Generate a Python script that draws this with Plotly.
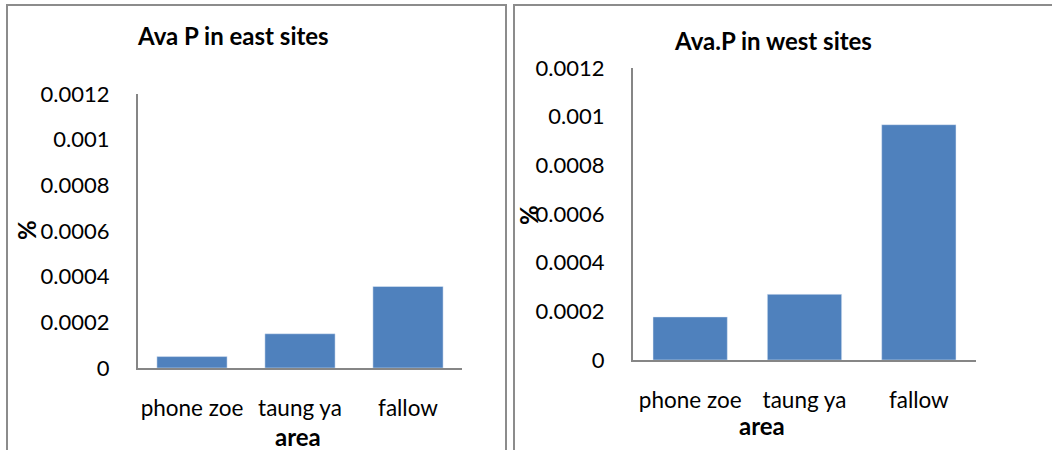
import plotly.graph_objects as go

# Available P by land-use area, east and west sites
areas = ["phone zoe", "taung ya", "fallow"]
east_values = [0.00005, 0.00015, 0.000357]
west_values = [0.000177, 0.00027, 0.000967]
y_ticks = [0, 0.0002, 0.0004, 0.0006, 0.0008, 0.001, 0.0012]
y_tick_labels = ["0", "0.0002", "0.0004", "0.0006", "0.0008", "0.001", "0.0012"]

W, H = 1052, 450
BAR_COLOR = "#4F81BD"
AXIS_COLOR = "#868686"
FRAME_COLOR = "#8C8C8C"
FONT = "Lato"


def px(x):
    return x / W


def py(y):
    return 1 - y / H


fig = go.Figure()
fig.add_trace(go.Bar(x=areas, y=east_values, marker_color=BAR_COLOR,
                     xaxis="x", yaxis="y", showlegend=False))
fig.add_trace(go.Bar(x=areas, y=west_values, marker_color=BAR_COLOR,
                     xaxis="x2", yaxis="y2", showlegend=False))

common_x = dict(showline=True, linecolor=AXIS_COLOR, linewidth=2,
                ticks="", showgrid=False, zeroline=False,
                tickfont=dict(family=FONT, size=22.5, color="#000"),
                fixedrange=True)
common_y = dict(showline=True, linecolor=AXIS_COLOR, linewidth=2,
                ticks="", showgrid=False, zeroline=False,
                range=[0, 0.0012], tickvals=y_ticks, ticktext=y_tick_labels,
                tickfont=dict(family=FONT, size=22, color="#000"),
                ticklabelstandoff=22, fixedrange=True)

fig.update_layout(
    width=W, height=H,
    margin=dict(l=0, r=0, t=0, b=0, autoexpand=False),
    paper_bgcolor="white", plot_bgcolor="white",
    bargap=0.35,
    xaxis=dict(domain=[px(138), px(462)], anchor="y",
               ticklabelstandoff=19, **common_x),
    yaxis=dict(domain=[py(368), py(94)], anchor="x", **common_y),
    xaxis2=dict(domain=[px(633), px(976)], anchor="y2",
                ticklabelstandoff=19, **common_x),
    yaxis2=dict(domain=[py(360), py(68)], anchor="x2", **common_y),
)

# Chart frames
fig.add_shape(type="rect", xref="paper", yref="paper",
              x0=px(7), x1=px(506), y0=py(470), y1=py(5),
              line=dict(color=FRAME_COLOR, width=2), fillcolor="rgba(0,0,0,0)")
fig.add_shape(type="rect", xref="paper", yref="paper",
              x0=px(514), x1=px(1070), y0=py(470), y1=py(5),
              line=dict(color=FRAME_COLOR, width=2), fillcolor="rgba(0,0,0,0)")

bold = dict(family=FONT, size=24, color="#000")
labels = [
    ("<b>Ava P in east sites</b>", 233, 36, 0),
    ("<b>Ava.P in west sites</b>", 773, 40, 0),
    ("<b>area</b>", 298, 436, 0),
    ("<b>area</b>", 762, 425, 0),
    ("<b>%</b>", 27, 230, -90),
    ("<b>%</b>", 528, 215, -90),
]
for text, x, y, ang in labels:
    fig.add_annotation(text=text, xref="paper", yref="paper",
                       x=px(x), y=py(y), xanchor="center", yanchor="middle",
                       showarrow=False, textangle=ang, font=bold)

fig.write_html("out.html")
